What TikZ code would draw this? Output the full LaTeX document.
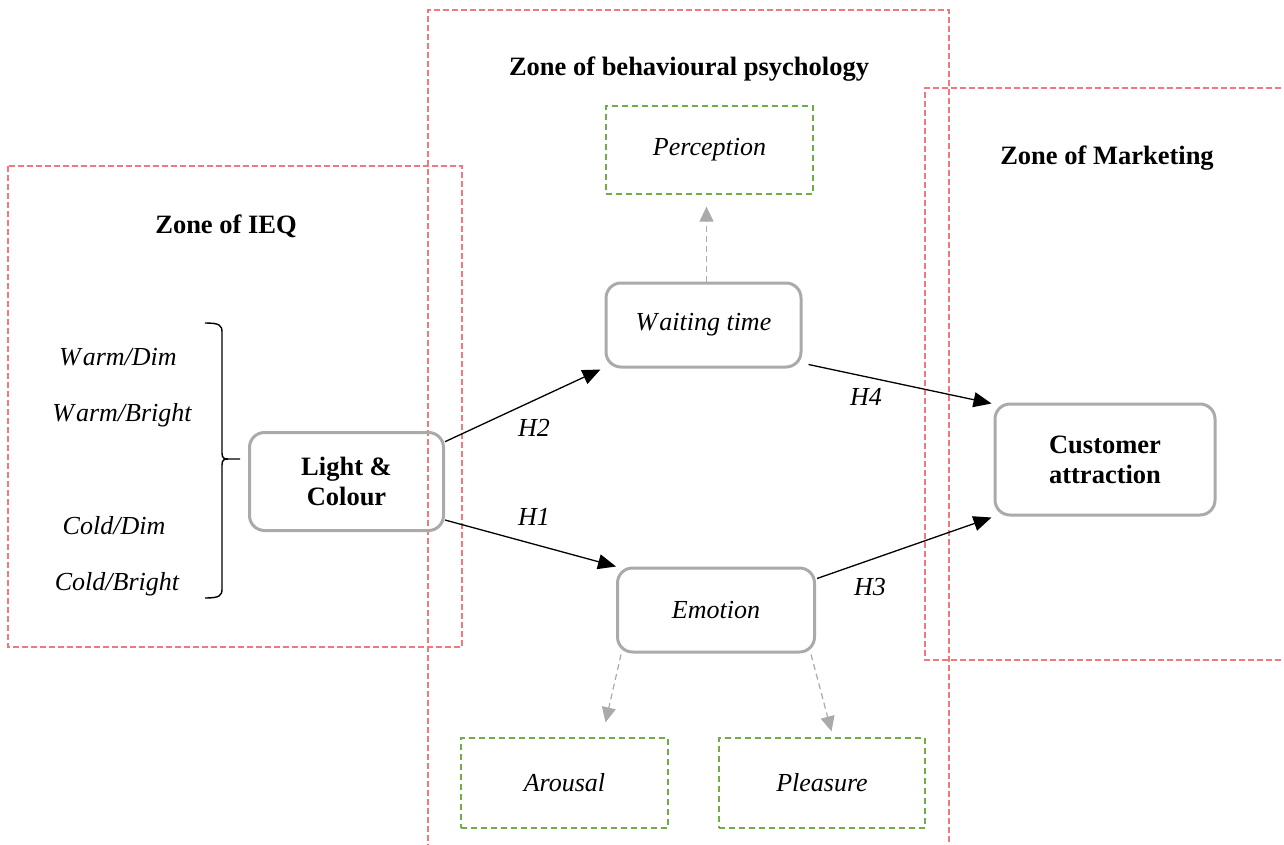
\documentclass[tikz,border=0pt]{standalone}
\usepackage{fontspec}
\setmainfont{Liberation Serif}
\usetikzlibrary{arrows.meta,calc}
\definecolor{zonered}{RGB}{242,120,125}
\definecolor{zonegreen}{RGB}{112,173,71}
\definecolor{boxgray}{RGB}{170,170,170}
\newcommand\itlab{\fontsize{26}{30}\selectfont\itshape}
\newcommand\bflab{\fontsize{26.5}{30}\selectfont\bfseries}
\begin{document}
\begin{tikzpicture}[x=1pt,y=-1pt,
  zone/.style={draw=zonered, line width=1.1pt, dash pattern=on 6pt off 3pt},
  title/.style={font=\bflab, inner sep=0pt},
  sub/.style={draw=zonegreen, line width=1.3pt, dash pattern=on 6pt off 4pt, font=\itlab, inner sep=0pt},
  box/.style={draw=boxgray, line width=3pt, rounded corners=15pt, inner sep=0pt, align=center},
  lab/.style={font=\itlab, inner sep=0pt},
  arr/.style={-{Triangle[length=18pt,width=15pt]}, line width=1.3pt, black},
  garr/.style={-{Triangle[length=15pt,width=14pt]}, draw=boxgray, line width=1.2pt, dash pattern=on 6pt off 4pt}
]
\useasboundingbox (0,0) rectangle (1284,845);

% zones
\draw[zone] (8,166) rectangle (462,647);
\draw[zone] (428,850) -- (428,10) -- (949,10) -- (949,850);
\draw[zone] (1290,88) -- (925,88) -- (925,660) -- (1290,660);

\node[title] (tieq) at (226,226) {Zone of IEQ};
\node[title] (tbeh) at (689,69) {Zone of behavioural psychology};
\node[title] (tmkt) at (1107,158) {Zone of Marketing};

% left labels
\node[lab] (wd) at (118,357) {W\kern2pt arm/Dim};
\node[lab] (wb) at (122,415) {W\kern2pt arm/Bright};
\node[lab] (cd) at (114,526) {Cold/Dim};
\node[lab] (cb) at (117,584) {Cold/Bright};

% brace
\draw[line width=1.4pt] (205,323) .. controls (219,323) and (222,325) .. (222,332)
  -- (222,453) .. controls (222,458) and (224,459) .. (228,459) -- (240,459);
\draw[line width=1.4pt] (228,459) .. controls (224,459) and (222,460) .. (222,465)
  -- (222,589) .. controls (222,596) and (219,598) .. (205,598);

% main boxes
\node[box, minimum width=194pt, minimum height=98pt, font=\bflab] (light) at (346.5,481.5) {Light \&\\Colour};
\node[box, minimum width=195pt, minimum height=84pt, font=\itlab] (wait) at (703.5,325) {W\kern2pt aiting time};
\node[box, minimum width=197pt, minimum height=84pt, font=\itlab] (emo) at (716,610) {Emotion};
\node[box, minimum width=220pt, minimum height=111pt, font=\bflab] (cust) at (1105,459.5) {Customer\\attraction};

% sub boxes
\node[sub, minimum width=207pt, minimum height=88pt] (perc) at (709.5,150) {Perception};
\node[sub, minimum width=207pt, minimum height=90pt] (arou) at (564.5,783) {Arousal};
\node[sub, minimum width=206pt, minimum height=90pt] (plea) at (822,783) {Pleasure};

% main arrows
\draw[arr] (light.22) -- ($(wait.south west)+(-4,1)$);
\draw[arr] ($(light.south east)+(0,-12)$) -- (emo.north west);
\draw[arr] ($(wait.south east)+(6,-4)$) -- ($(cust.north west)+(-2,1)$);
\draw[arr] ($(emo.north east)+(1,12)$) -- ($(cust.south west)+(-2,1)$);

\node[lab] (h2) at (534,428) {H2};
\node[lab] (h1) at (534,517) {H1};
\node[lab] (h4) at (866,397) {H4};
\node[lab] (h3) at (870,587) {H3};

% dashed grey arrows
\draw[garr] ($(wait.north)+(3,0)$) -- ($(perc.south)+(-3,12)$);
\draw[garr] ($(emo.south west)+(5,1)$) -- ($(arou.north)+(41,-15)$);
\draw[garr] ($(emo.south east)+(-5,1)$) -- ($(plea.north)+(9.5,-6)$);
\end{tikzpicture}
\end{document}
